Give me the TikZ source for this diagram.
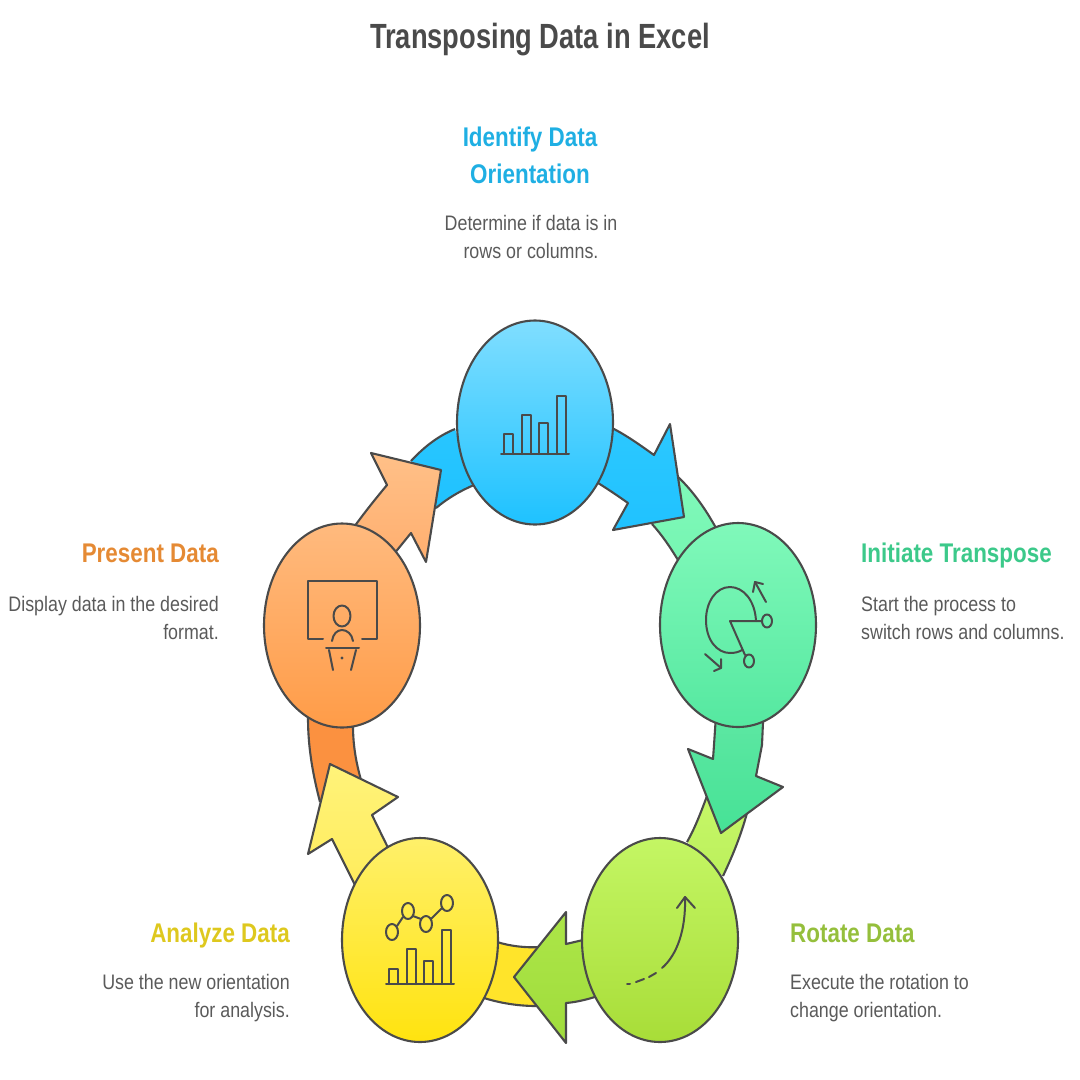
\documentclass[tikz,border=0pt]{standalone}
\usepackage{fontspec}
\setmainfont{Liberation Sans}[FakeStretch=0.85]
\newfontfamily\headfont{Liberation Sans}[FakeStretch=0.83,BoldFont={Liberation Sans Bold}]
\newfontfamily\titlefont{Liberation Sans}[FakeStretch=0.78,BoldFont={Liberation Sans Bold}]
\usetikzlibrary{shapes.geometric}
\definecolor{ink}{HTML}{4A4A4A}
\definecolor{txt}{HTML}{5A5A5A}
\definecolor{cBlue}{HTML}{1FAFE3}
\definecolor{cGreen}{HTML}{3CC98A}
\definecolor{cLime}{HTML}{95BF3C}
\definecolor{cYellow}{HTML}{DEC81E}
\definecolor{cOrange}{HTML}{E58A34}
\definecolor{tBlueA}{HTML}{28C6FF}\definecolor{tBlueB}{HTML}{20C2FF}
\definecolor{tGreenA}{HTML}{80F9BA}\definecolor{tGreenB}{HTML}{76F5B2}
\definecolor{tLimeA}{HTML}{C6F768}\definecolor{tLimeB}{HTML}{BCF05C}
\definecolor{tYellow}{HTML}{FFE42A}
\definecolor{tOrange}{HTML}{FB9140}
\definecolor{hBlueA}{HTML}{2CC8FF}\definecolor{hBlueB}{HTML}{20C2FF}
\definecolor{hGreenA}{HTML}{60E8A4}\definecolor{hGreenB}{HTML}{46E296}
\definecolor{hLimeA}{HTML}{ACE648}\definecolor{hLimeB}{HTML}{A0DC3C}
\definecolor{hYellowA}{HTML}{FFF37A}\definecolor{hYellowB}{HTML}{FFEC5A}
\definecolor{hOrangeA}{HTML}{FFC088}\definecolor{hOrangeB}{HTML}{FFAE6E}
\definecolor{bBlueA}{HTML}{80DEFF}\definecolor{bBlueB}{HTML}{1EC2FF}
\definecolor{bGreenA}{HTML}{80F9BA}\definecolor{bGreenB}{HTML}{55E8A0}
\definecolor{bLimeA}{HTML}{C4F664}\definecolor{bLimeB}{HTML}{A8DD38}
\definecolor{bYellowA}{HTML}{FFF06A}\definecolor{bYellowB}{HTML}{FFE30F}
\definecolor{bOrangeA}{HTML}{FFBA7E}\definecolor{bOrangeB}{HTML}{FF9C48}
\tikzset{
  x=1pt,y=-1pt,
  blob/.style={draw=ink,line width=2.1pt,line join=round},
  ball/.style={blob,ellipse,inner sep=0pt,minimum width=156pt,minimum height=204pt},
  ico/.style={draw=ink,line width=2pt,line cap=round,line join=round},
  titletext/.style={font=\titlefont\bfseries\fontsize{35}{38}\selectfont,text=ink,inner sep=0pt},
  headtext/.style={font=\headfont\bfseries\fontsize{27}{37}\selectfont,align=center,inner sep=0pt},
  bodytext/.style={font=\fontsize{21}{28}\selectfont,text=txt,inner sep=0pt},
}
\begin{document}
\begin{tikzpicture}
\useasboundingbox (0,0) rectangle (1080,1080);
% tails
\shade[top color=tBlueA,bottom color=tBlueB] (455,429) .. controls (438,436) and (424,447) .. (411,461) -- (436,508) .. controls (448,498) and (460,491) .. (474,485) -- cycle;
\draw[blob] (455,429) .. controls (438,436) and (424,447) .. (411,461);
\draw[blob] (436,508) .. controls (448,498) and (460,491) .. (474,485);
\shade[top color=tGreenA,bottom color=tGreenB] (678,477) .. controls (692,490) and (705,508) .. (716,528) -- (678,560) .. controls (670,547) and (662,535) .. (652,524) -- cycle;
\draw[blob] (678,477) .. controls (692,490) and (705,508) .. (716,528);
\draw[blob] (678,560) .. controls (670,547) and (662,535) .. (652,524);
\shade[top color=tLimeA,bottom color=tLimeB] (747,813) .. controls (741,835) and (733,855) .. (723,876) -- (687,842) .. controls (695,828) and (701,812) .. (707,796) -- cycle;
\draw[blob] (747,813) .. controls (741,835) and (733,855) .. (723,876);
\draw[blob] (687,842) .. controls (695,828) and (701,812) .. (707,796);
\fill[tYellow] (497,942) .. controls (510,946) and (525,948) .. (540,947) -- (536,1006) .. controls (518,1006) and (500,1003) .. (484,998) -- cycle;
\draw[blob] (497,942) .. controls (510,946) and (525,948) .. (540,947);
\draw[blob] (536,1006) .. controls (518,1006) and (500,1003) .. (484,998);
\fill[tOrange] (308,718) .. controls (308,748) and (313,775) .. (320,802) -- (361,780) .. controls (356,762) and (353,745) .. (353,726) -- cycle;
\draw[blob] (308,718) .. controls (308,748) and (313,775) .. (320,802);
\draw[blob] (361,780) .. controls (356,762) and (353,745) .. (353,726);
% heads
\path[blob,top color=hBlueA,bottom color=hBlueB]
  (600,430) -- (612,428) .. controls (626,435) and (640,445) .. (654,455) -- (670,424) -- (684,517) -- (613,530) -- (628,503) .. controls (618,496) and (608,489) .. (590,478) -- cycle;
\path[blob,top color=hGreenA,bottom color=hGreenB]
  (717,700) -- (714,745) -- (713,759) -- (688,749) -- (721,833) -- (783,787) -- (756,776) -- (762,745) -- (764,700) -- cycle;
\path[blob,top color=hLimeA,bottom color=hLimeB]
  (600,936) -- (566,944) -- (566,912) -- (514,977) -- (566,1043) -- (566,1003) .. controls (578,1002) and (590,999) .. (610,992) -- cycle;
\path[blob,top color=hYellowA,bottom color=hYellowB]
  (395,862) -- (372,815) -- (398,797) -- (330,764) -- (308,854) -- (332,839) -- (360,895) -- cycle;
\path[blob,top color=hOrangeA,bottom color=hOrangeB]
  (345,540) .. controls (357,522) and (372,503) .. (387,485) -- (371,453) -- (441,470) -- (426,562) -- (411,533) -- (385,565) -- cycle;
% balls
\node[ball,top color=bBlueA,bottom color=bBlueB] (n1) at (535,422.5) {};
\node[ball,top color=bGreenA,bottom color=bGreenB] (n2) at (738,625) {};
\node[ball,top color=bLimeA,bottom color=bLimeB] (n3) at (660,940) {};
\node[ball,top color=bYellowA,bottom color=bYellowB] (n4) at (420,940) {};
\node[ball,top color=bOrangeA,bottom color=bOrangeB] (n5) at (342,625.5) {};
% icon blue
\draw[ico] (501,454) -- (569,454);
\draw[ico] (504,454) -- (504,434) -- (513,434) -- (513,454);
\draw[ico] (522,454) -- (522,415) -- (531,415) -- (531,454);
\draw[ico] (539,454) -- (539,423) -- (548,423) -- (548,454);
\draw[ico] (557,454) -- (557,396) -- (566,396) -- (566,454);
% icon green
\draw[ico] (756,621) .. controls (755,600) and (743,587) .. (730,587) .. controls (716,587) and (706,602) .. (706,620) .. controls (706,640) and (717,653) .. (730,653) .. controls (735,653) and (739,652) .. (742,650);
\draw[ico] (762,621) -- (730,621) -- (745,655);
\draw[ico] (767,621) ellipse [x radius=5,y radius=6.5];
\draw[ico] (749,661) ellipse [x radius=5,y radius=6.5];
\draw[ico] (766,602) -- (755,582);
\draw[ico] (753,592) -- (755,582) -- (763,584);
\draw[ico] (705,654) -- (721,668);
\draw[ico] (714,671) -- (721,668) -- (721,659);
% icon lime
\draw[ico] (662,968) .. controls (677,955) and (686,930) .. (685,897);
\draw[ico] (677,908) -- (685,897) -- (695,908);
\draw[ico] (627,984) -- (630,984);
\draw[ico] (636,982) -- (644,979);
\draw[ico] (649,977) -- (656,973);
% icon yellow
\draw[ico] (386,984) -- (454,984);
\draw[ico] (389,984) -- (389,969) -- (398,969) -- (398,984);
\draw[ico] (407,984) -- (407,949) -- (416,949) -- (416,984);
\draw[ico] (424,984) -- (424,961) -- (433,961) -- (433,984);
\draw[ico] (442,984) -- (442,930) -- (451,930) -- (451,984);
\draw[ico] (392,932) ellipse [x radius=6,y radius=8];
\draw[ico] (408,911) ellipse [x radius=6,y radius=8];
\draw[ico] (426,924) ellipse [x radius=6,y radius=8];
\draw[ico] (447,903) ellipse [x radius=6,y radius=8];
\draw[ico] (397,926) -- (403,917);
\draw[ico] (413,916) -- (421,919);
\draw[ico] (431,919) -- (442,908);
% icon orange
\draw[ico] (323,639) -- (308,639) -- (308,581) -- (377,581) -- (377,639) -- (362,639);
\draw[ico] (342,616) ellipse [x radius=8.5,y radius=10.5];
\draw[ico] (332,641) .. controls (333,634) and (337,630) .. (342,630) .. controls (347,630) and (352,634) .. (353,641);
\draw[ico] (326,648) -- (359,648);
\draw[ico] (329,650) -- (333,670);
\draw[ico] (356,650) -- (351,670);
\fill[ink] (342,658) circle [radius=1.7];
% text
\node[titletext,anchor=base] (title) at (540,48) {Transposing Data in Excel};
\node[headtext,text=cBlue] (h1) at (530,155) {Identify Data\\Orientation};
\node[bodytext,align=center] (b1) at (531,237) {Determine if data is in\\rows or columns.};
\node[headtext,text=cGreen,anchor=base west] (h2) at (861,562) {Initiate Transpose};
\node[bodytext,align=left,anchor=west] (b2) at (861,618) {Start the process to\\switch rows and columns.};
\node[headtext,text=cLime,anchor=base west] (h3) at (790,942) {Rotate Data};
\node[bodytext,align=left,anchor=west] (b3) at (790,998) {Execute the rotation to\\change orientation.};
\node[headtext,text=cYellow,anchor=base east] (h4) at (290,942) {Analyze Data};
\node[bodytext,align=right,anchor=east] (b4) at (290,998) {Use the new orientation\\for analysis.};
\node[headtext,text=cOrange,anchor=base east] (h5) at (219,562) {Present Data};
\node[bodytext,align=right,anchor=east] (b5) at (219,618) {Display data in the desired\\format.};
\end{tikzpicture}
\end{document}
